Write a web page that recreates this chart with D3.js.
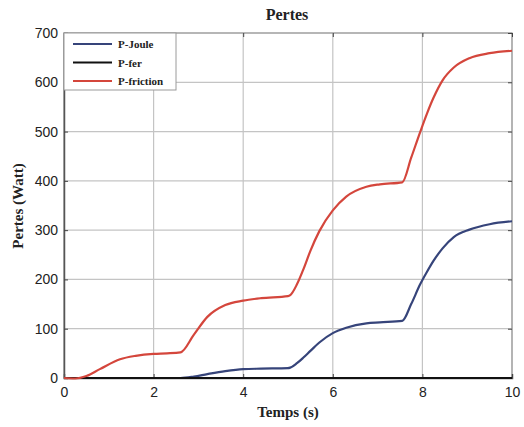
<!DOCTYPE html>
<html>
<head>
<meta charset="utf-8">
<script src="https://cdn.jsdelivr.net/npm/d3@7"></script>
<style>
  html, body { margin: 0; padding: 0; background: #fff; }
  svg { display: block; }
</style>
</head>
<body>
<svg id="chart" width="524" height="427"></svg>
<script>
// Time samples (s)
const temps = [0, 0.25, 0.5, 0.8, 1.25, 1.6, 2.0, 2.3, 2.6, 2.9, 3.2, 3.6, 4.0, 4.4, 5.0, 5.05, 5.2, 5.35, 5.5, 5.7, 6.0, 6.3, 6.75, 7.05, 7.55, 7.75, 7.95, 8.1, 8.25, 8.45, 8.7, 9.05, 9.5, 10];
// Losses (W)
const pJoule    = [0, 0, 0, 0, 0, 0, 0, 0, 0, 3, 8, 14, 18, 19, 20, 21, 30, 42, 55, 72, 91, 102, 111, 113, 116, 150, 190, 215, 238, 263, 286, 301, 312, 318];
const pFer      = [0, 0, 0, 0, 0, 0, 0, 0, 0, 0, 0, 0, 0, 0, 0, 0, 0, 0, 0, 0, 0, 0, 0, 0, 0, 0, 0, 0, 0, 0, 0, 0, 0, 0];
const pFriction = [0, -1, 4, 18, 38, 45, 49, 50, 52, 88, 124, 148, 157, 162, 166, 168, 190, 222, 258, 298, 340, 368, 388, 393, 397, 447, 499, 536, 569, 604, 630, 649, 659, 664];

const xTicks = [0, 2, 4, 6, 8, 10];
const yTicks = [0, 100, 200, 300, 400, 500, 600, 700];

const seriesNames = ["P-Joule", "P-fer", "P-friction"];
const seriesColors = ["#36447a", "#111111", "#d4463c"];
const seriesValues = [pJoule, pFer, pFriction];

const svg = d3.select("#chart");
const m = { left: 64, right: 12, top: 33, bottom: 49 };
const W = 524, H = 427;
const x = d3.scaleLinear().domain([0, 10]).range([m.left, W - m.right]);
const y = d3.scaleLinear().domain([0, 700]).range([H - m.bottom, m.top]);

const serif = "'Liberation Serif', 'Times New Roman', serif";
const sans = "'Liberation Sans', Arial, sans-serif";

// grid
svg.append("g").selectAll("line").data(xTicks).join("line")
  .attr("x1", d => x(d)).attr("x2", d => x(d))
  .attr("y1", y(0)).attr("y2", y(700))
  .attr("stroke", "#c4c4c4").attr("stroke-width", 1.2);
svg.append("g").selectAll("line").data(yTicks).join("line")
  .attr("x1", x(0)).attr("x2", x(10))
  .attr("y1", d => y(d)).attr("y2", d => y(d))
  .attr("stroke", "#c4c4c4").attr("stroke-width", 1.2);

// frame
svg.append("rect")
  .attr("x", x(0)).attr("y", y(700))
  .attr("width", x(10) - x(0)).attr("height", y(0) - y(700))
  .attr("fill", "none").attr("stroke", "#9a9a9a").attr("stroke-width", 1.2);

// axes
const xAxis = svg.append("g").attr("transform", `translate(0,${y(0)})`)
  .call(d3.axisBottom(x).tickValues(xTicks).tickSize(-4).tickPadding(9).tickFormat(d3.format("d")));
const yAxis = svg.append("g").attr("transform", `translate(${x(0)},0)`)
  .call(d3.axisLeft(y).tickValues(yTicks).tickSize(-4).tickPadding(6).tickFormat(d3.format("d")));
[xAxis, yAxis].forEach(a => {
  a.select(".domain").attr("stroke", "#555").attr("stroke-width", 1.5);
  a.selectAll(".tick line").attr("stroke", "#444");
  a.selectAll("text").attr("font-family", sans).attr("font-size", 14).attr("fill", "#222");
});
// ticks on the opposite sides
svg.append("g").attr("transform", `translate(0,${y(700)})`)
  .call(d3.axisTop(x).tickValues(xTicks).tickSize(-4).tickFormat(""))
  .call(g => g.select(".domain").remove())
  .selectAll(".tick line").attr("stroke", "#444");
svg.append("g").attr("transform", `translate(${x(10)},0)`)
  .call(d3.axisRight(y).tickValues(yTicks).tickSize(-4).tickFormat(""))
  .call(g => g.select(".domain").remove())
  .selectAll(".tick line").attr("stroke", "#444");

// curves
const line = d3.line().x((d, i) => x(temps[i])).y(d => y(d)).curve(d3.curveMonotoneX);
seriesValues.forEach((vals, k) => {
  svg.append("path").datum(vals)
    .attr("d", line)
    .attr("fill", "none")
    .attr("stroke", seriesColors[k])
    .attr("stroke-width", 2.2)
    .attr("stroke-linejoin", "round");
});

// legend
const lg = svg.append("g");
lg.append("rect").attr("x", x(0)).attr("y", y(700))
  .attr("width", 112).attr("height", 57)
  .attr("fill", "#fff").attr("stroke", "#9a9a9a").attr("stroke-width", 1);
seriesNames.forEach((name, k) => {
  const yy = y(700) + 11 + k * 18.5;
  lg.append("line").attr("x1", x(0) + 9).attr("x2", x(0) + 48)
    .attr("y1", yy).attr("y2", yy)
    .attr("stroke", seriesColors[k]).attr("stroke-width", 2);
  lg.append("text").attr("x", x(0) + 54).attr("y", yy + 4)
    .attr("font-family", serif).attr("font-weight", "bold").attr("font-size", 11)
    .attr("fill", "#222").text(name);
});

// titles
svg.append("text").attr("x", 287).attr("y", 20).attr("text-anchor", "middle")
  .attr("font-family", serif).attr("font-weight", "bold").attr("font-size", 16)
  .attr("fill", "#222").text("Pertes");
svg.append("text").attr("x", 288).attr("y", 417).attr("text-anchor", "middle")
  .attr("font-family", serif).attr("font-weight", "bold").attr("font-size", 15)
  .attr("fill", "#222").text("Temps (s)");
svg.append("text").attr("transform", "translate(23,206) rotate(-90)").attr("text-anchor", "middle")
  .attr("font-family", serif).attr("font-weight", "bold").attr("font-size", 15)
  .attr("fill", "#222").text("Pertes (Watt)");
</script>
</body>
</html>
